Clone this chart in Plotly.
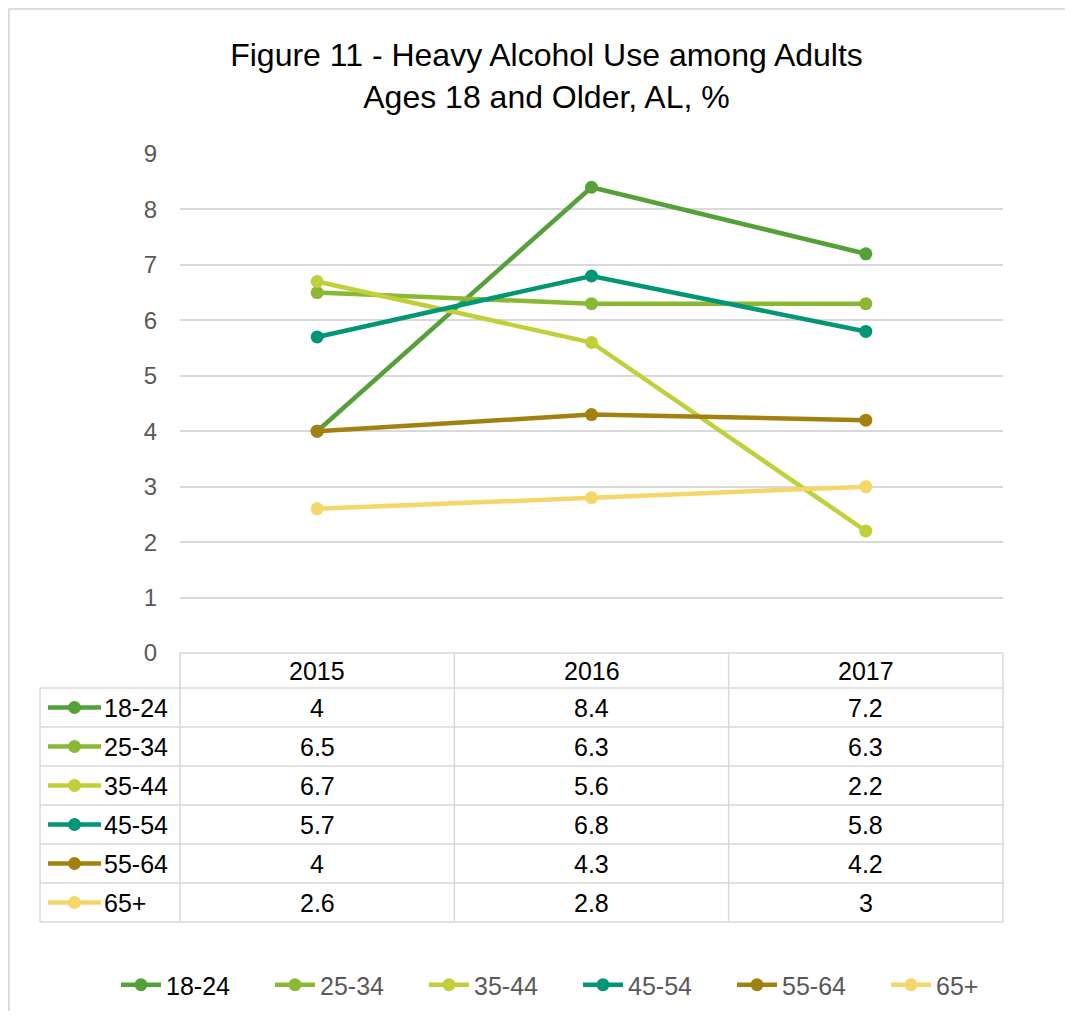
import plotly.graph_objects as go

years = ["2015", "2016", "2017"]
groups = ["18-24", "25-34", "35-44", "45-54", "55-64", "65+"]
v_18_24 = [4, 8.4, 7.2]
v_25_34 = [6.5, 6.3, 6.3]
v_35_44 = [6.7, 5.6, 2.2]
v_45_54 = [5.7, 6.8, 5.8]
v_55_64 = [4, 4.3, 4.2]
v_65p = [2.6, 2.8, 3]
series = [v_18_24, v_25_34, v_35_44, v_45_54, v_55_64, v_65p]
colors = ["#55A038", "#8AB833", "#C0CF3A", "#029676", "#A28110", "#F4D66A"]
yticks = list(range(0, 10))

# page has an 8px body margin; work in screenshot pixels and convert
OX, OY = 8, 8
W, H = 1073 - 2 * OX, 1019 - 2 * OY
L, R, T, B = 180, 1003, 154, 653   # screenshot pixel positions of plot area
pw, ph = R - L, B - T

def px(x):
    return (x - L) / pw

def py(y):
    return (B - y) / ph

fig = go.Figure()
for i, (g, vals) in enumerate(zip(groups, series)):
    label = g if i else f"<span style='color:#000000'>{g}</span>"
    fig.add_trace(go.Scatter(
        x=list(range(len(years))), y=vals, name=label, mode="lines+markers",
        line=dict(color=colors[i], width=4.5),
        marker=dict(color=colors[i], size=13),
        hovertemplate=g + ": %{y}<extra></extra>",
    ))

shapes = []
annotations = []
grid = "#D9D9D9"
# outer chart border (top and left edges visible only)
shapes.append(dict(type="line", xref="paper", yref="paper",
                   x0=px(8.8), x1=px(1100), y0=py(8.8), y1=py(8.8),
                   line=dict(color=grid, width=2), layer="below"))
shapes.append(dict(type="line", xref="paper", yref="paper",
                   x0=px(8.8), x1=px(8.8), y0=py(8.8), y1=py(1040),
                   line=dict(color=grid, width=2), layer="below"))

# data table
row_h = 39
header_top = B
header_bot = B + 35
col_x = [L + k * pw / 3 for k in range(4)]
n = len(groups)
table_bot = header_bot + n * row_h
left_x = 40
shapes.append(dict(type="line", xref="paper", yref="paper", x0=px(L), x1=px(R),
                   y0=py(header_top), y1=py(header_top), line=dict(color=grid, width=1.5)))
for r in range(n + 1):
    yy = header_bot + r * row_h
    shapes.append(dict(type="line", xref="paper", yref="paper", x0=px(left_x), x1=px(R),
                       y0=py(yy), y1=py(yy), line=dict(color=grid, width=1.5)))
for cx in col_x:
    shapes.append(dict(type="line", xref="paper", yref="paper", x0=px(cx), x1=px(cx),
                       y0=py(header_top), y1=py(table_bot), line=dict(color=grid, width=1.5)))
shapes.append(dict(type="line", xref="paper", yref="paper", x0=px(left_x), x1=px(left_x),
                   y0=py(header_bot), y1=py(table_bot), line=dict(color=grid, width=1.5)))

tfont = dict(family="Liberation Sans, Arial", size=25, color="#000000")
for k, yr in enumerate(years):
    cx = (col_x[k] + col_x[k + 1]) / 2
    annotations.append(dict(xref="paper", yref="paper", x=px(cx), y=py((header_top + header_bot) / 2),
                            text=yr, showarrow=False, font=tfont, xanchor="center", yanchor="middle"))
for r, (g, vals) in enumerate(zip(groups, series)):
    cy = header_bot + r * row_h + row_h / 2
    for k, v in enumerate(vals):
        cx = (col_x[k] + col_x[k + 1]) / 2
        annotations.append(dict(xref="paper", yref="paper", x=px(cx), y=py(cy),
                                text=f"{v:g}", showarrow=False, font=tfont,
                                xanchor="center", yanchor="middle"))
    shapes.append(dict(type="line", xref="paper", yref="paper", x0=px(48), x1=px(101),
                       y0=py(cy), y1=py(cy), line=dict(color=colors[r], width=4.5)))
    shapes.append(dict(type="circle", xref="paper", yref="paper", xsizemode="pixel", ysizemode="pixel",
                       xanchor=px(74.5), yanchor=py(cy), x0=-6.5, x1=6.5, y0=-6.5, y1=6.5,
                       fillcolor=colors[r], line=dict(color=colors[r], width=0)))
    annotations.append(dict(xref="paper", yref="paper", x=px(102), y=py(cy),
                            text=g, showarrow=False, font=tfont, xanchor="left", yanchor="middle"))

fig.update_layout(
    width=W, height=H,
    margin=dict(l=L - OX, r=W - (R - OX), t=T - OY, b=H - (B - OY), pad=0, autoexpand=False),
    paper_bgcolor="white", plot_bgcolor="white",
    font=dict(family="Liberation Sans, Arial", color="#595959"),
    title=dict(text="Figure 11 - Heavy Alcohol Use among Adults<br>Ages 18 and Older, AL, %",
               x=(546.5 - OX) / W, xanchor="center", y=1 - (66 - OY) / H, yanchor="middle",
               font=dict(size=32, color="#000000", family="Liberation Sans, Arial")),
    xaxis=dict(range=[-0.5, 2.5], showticklabels=False, showgrid=False, zeroline=False,
               showline=False, ticks="", fixedrange=True),
    yaxis=dict(range=[0, 9], tickvals=yticks, showgrid=True, gridcolor=grid, gridwidth=1.5,
               zeroline=False, showline=False, ticks="", ticklabelstandoff=22,
               tickfont=dict(size=24, color="#595959")),
    showlegend=True,
    legend=dict(orientation="h", xref="paper", yref="paper",
                x=px(116), xanchor="left", y=py(985), yanchor="middle",
                font=dict(size=25, color="#595959"), itemwidth=40,
                traceorder="normal", entrywidth=99, entrywidthmode="pixels"),
    shapes=shapes, annotations=annotations,
)

fig.write_html("out.html")
